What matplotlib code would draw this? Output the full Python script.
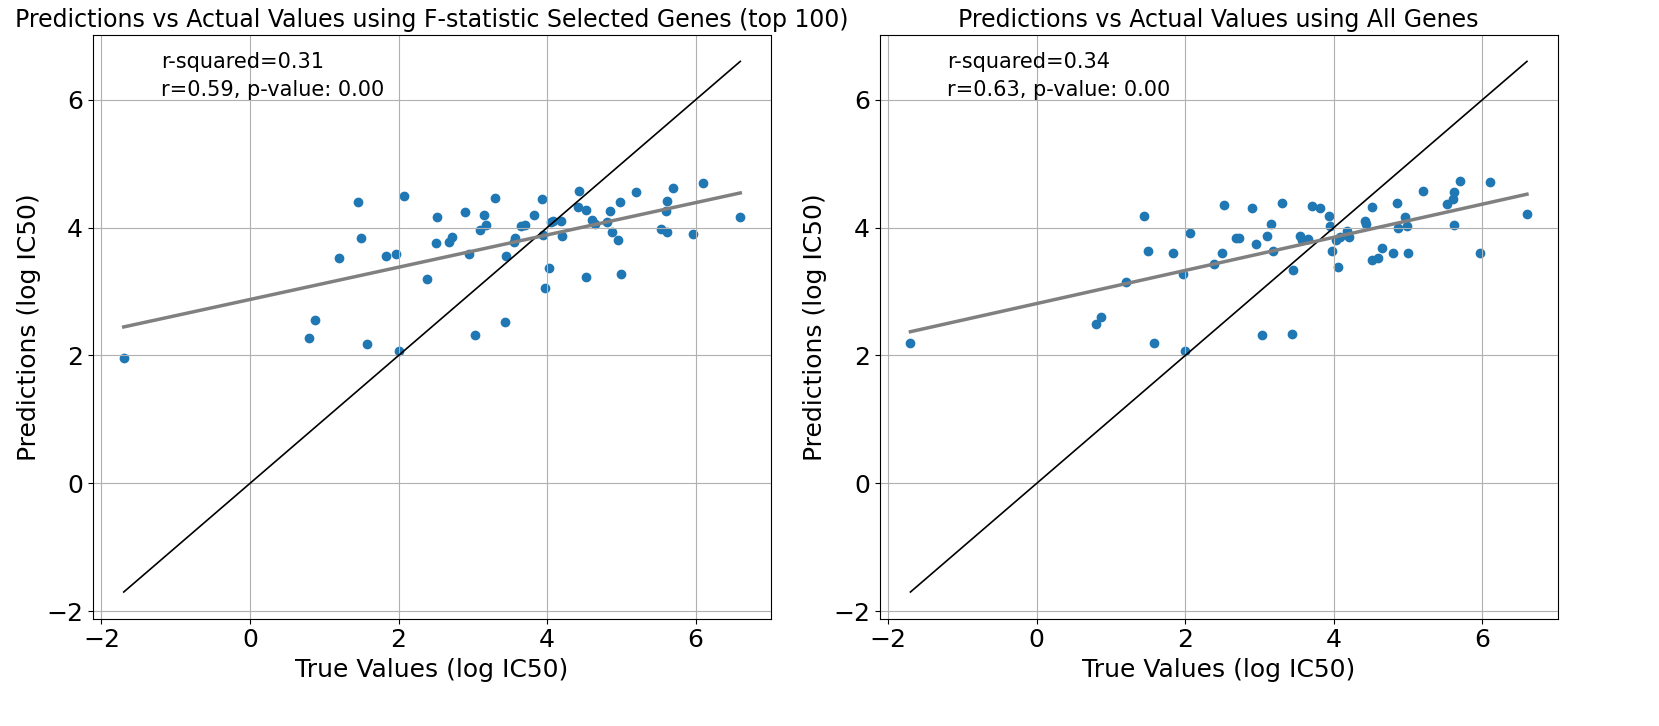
import numpy as np
import matplotlib
matplotlib.use("Agg")
import matplotlib.pyplot as plt

true_vals = [-1.7, 0.8, 0.87, 1.2, 1.45, 1.5, 1.58, 1.83, 1.97, 2.0, 2.07, 2.38, 2.5, 2.52, 2.68, 2.72,
             2.9, 2.95, 3.03, 3.1, 3.15, 3.18, 3.3, 3.43, 3.45, 3.55, 3.57, 3.65, 3.7, 3.82, 3.93, 3.95,
             3.97, 4.03, 4.05, 4.08, 4.18, 4.2, 4.42, 4.43, 4.52, 4.52, 4.6, 4.65, 4.8, 4.85, 4.87, 4.96,
             4.98, 5.0, 5.2, 5.53, 5.6, 5.62, 5.62, 5.7, 5.97, 6.1, 6.6]

pred_fstat = [1.96, 2.28, 2.55, 3.52, 4.4, 3.83, 2.18, 3.55, 3.58, 2.07, 4.5, 3.2, 3.76, 4.17, 3.78, 3.86,
              4.24, 3.58, 2.32, 3.96, 4.2, 4.04, 4.47, 2.53, 3.55, 3.78, 3.84, 4.02, 4.04, 4.19, 4.44, 3.88,
              3.06, 3.37, 4.08, 4.1, 4.1, 3.87, 4.33, 4.58, 4.27, 3.22, 4.12, 4.06, 4.08, 4.26, 3.93, 3.8,
              4.4, 3.28, 4.56, 3.98, 4.26, 4.42, 3.93, 4.62, 3.9, 4.7, 4.17]

pred_all = [2.2, 2.5, 2.6, 3.15, 4.18, 3.64, 2.2, 3.6, 3.28, 2.07, 3.92, 3.43, 3.6, 4.36, 3.84, 3.83,
            4.31, 3.74, 2.32, 3.87, 4.05, 3.64, 4.38, 2.33, 3.33, 3.87, 3.8, 3.82, 4.34, 4.31, 4.18, 4.03,
            3.64, 3.8, 3.38, 3.86, 3.94, 3.85, 4.1, 4.05, 4.32, 3.5, 3.52, 3.68, 3.6, 4.38, 4.0, 4.17,
            4.03, 3.6, 4.58, 4.37, 4.44, 4.55, 4.04, 4.73, 3.6, 4.72, 4.22]

titles = ["Predictions vs Actual Values using F-statistic Selected Genes (top 100)",
          "Predictions vs Actual Values using All Genes"]
stats = ["r-squared=0.31\nr=0.59, p-value: 0.00", "r-squared=0.34\nr=0.63, p-value: 0.00"]

fig, axes = plt.subplots(1, 2, figsize=(16.59, 7.26), dpi=100)
x = np.array(true_vals)
for ax, preds, title, txt in zip(axes, [pred_fstat, pred_all], titles, stats):
    y = np.array(preds)
    ax.scatter(x, y)
    ax.plot(x, x, color="black", linewidth=1.2)
    m, b = np.polyfit(x, y, 1)
    ax.plot(x, m * x + b, color="gray", linewidth=2.5)
    ax.set_title(title, fontsize=17)
    ax.set_xlabel("True Values (log IC50)", fontsize=18)
    ax.set_ylabel("Predictions (log IC50)", fontsize=18)
    ax.tick_params(labelsize=18)
    ax.grid()
    ax.text(0.1, 0.97, txt, transform=ax.transAxes, fontsize=15, va="top", linespacing=1.5)

plt.subplots_adjust(left=0.056, right=0.939, top=0.952, bottom=0.148, wspace=0.16)
fig.savefig("out.png")
